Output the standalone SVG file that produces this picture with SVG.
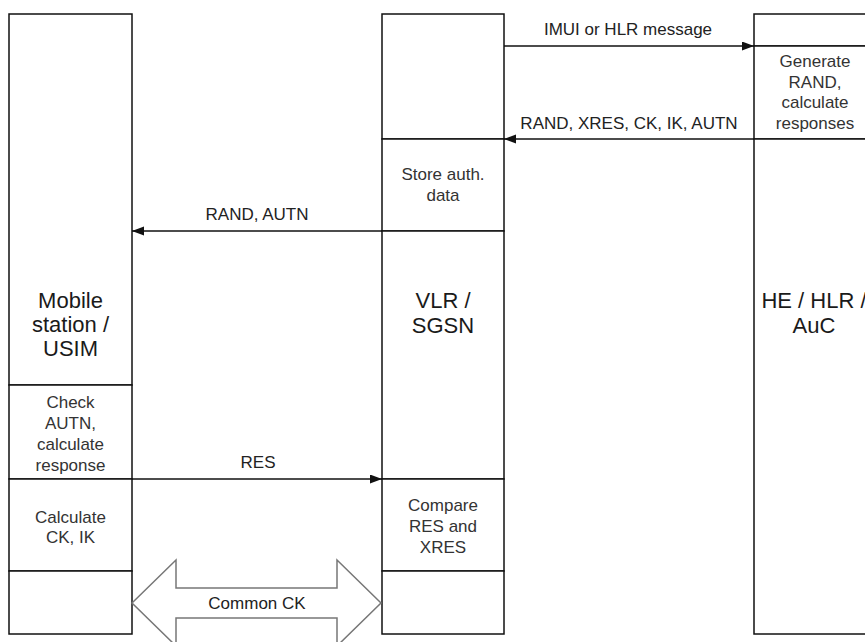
<svg xmlns="http://www.w3.org/2000/svg" width="865" height="642" viewBox="0 0 865 642">
<style>
.cell{fill:#fff;stroke:#111;stroke-width:1.5}
.big{font-family:"Liberation Sans",Arial,sans-serif;font-size:22px;fill:#1a1a1a;text-anchor:middle}
.sm{font-family:"Liberation Sans",Arial,sans-serif;font-size:17px;fill:#333;text-anchor:middle}
.lbl{font-family:"Liberation Sans",Arial,sans-serif;font-size:17px;fill:#222;text-anchor:middle}
.msg{stroke:#111;stroke-width:1.5;fill:none;marker-end:url(#ah)}
.blk{fill:#fff;stroke:#777;stroke-width:1.5}
</style>
<defs>
<marker id="ah" markerUnits="userSpaceOnUse" markerWidth="13" markerHeight="10" refX="12" refY="4.5" orient="auto">
<path d="M0,0 L12,4.5 L0,9 z" fill="#111"/>
</marker>
</defs>
<rect width="865" height="642" fill="#fff"/>
<g id="ms-main"><rect class="cell" x="9" y="14" width="123" height="371"/>
<text class="big" x="70.5" y="308">Mobile</text><text class="big" x="70.5" y="332">station /</text><text class="big" x="70.5" y="356">USIM</text></g>
<g id="ms-check"><rect class="cell" x="9" y="385" width="123" height="94"/>
<text class="sm" x="70.5" y="408">Check</text><text class="sm" x="70.5" y="429">AUTN,</text><text class="sm" x="70.5" y="450">calculate</text><text class="sm" x="70.5" y="471">response</text></g>
<g id="ms-calc"><rect class="cell" x="9" y="479" width="123" height="92"/>
<text class="sm" x="70.5" y="523">Calculate</text><text class="sm" x="70.5" y="543">CK, IK</text></g>
<g id="ms-bottom"><rect class="cell" x="9" y="571" width="123" height="63"/></g>
<g id="vlr-top"><rect class="cell" x="382" y="14" width="122" height="125"/></g>
<g id="vlr-store"><rect class="cell" x="382" y="139" width="122" height="92"/>
<text class="sm" x="443" y="180">Store auth.</text><text class="sm" x="443" y="201">data</text></g>
<g id="vlr-main"><rect class="cell" x="382" y="231" width="122" height="248"/>
<text class="big" x="443" y="308">VLR /</text><text class="big" x="443" y="333">SGSN</text></g>
<g id="vlr-compare"><rect class="cell" x="382" y="479" width="122" height="92"/>
<text class="sm" x="443" y="511">Compare</text><text class="sm" x="443" y="532">RES and</text><text class="sm" x="443" y="553">XRES</text></g>
<g id="vlr-bottom"><rect class="cell" x="382" y="571" width="122" height="63"/></g>
<g id="he-top"><rect class="cell" x="754" y="14" width="122" height="32"/></g>
<g id="he-gen"><rect class="cell" x="754" y="46" width="122" height="93"/>
<text class="sm" x="815" y="67">Generate</text><text class="sm" x="815" y="88">RAND,</text><text class="sm" x="815" y="108">calculate</text><text class="sm" x="815" y="129">responses</text></g>
<g id="he-main"><rect class="cell" x="754" y="139" width="122" height="495"/>
<text class="big" x="814" y="308">HE / HLR /</text><text class="big" x="814" y="333">AuC</text></g>
<g id="connectors">
<line class="msg" x1="504" y1="46" x2="754" y2="46"/>
<text class="lbl" x="628" y="35">IMUI or HLR message</text>
<line class="msg" x1="754" y1="139" x2="504" y2="139"/>
<text class="lbl" x="629" y="129">RAND, XRES, CK, IK, AUTN</text>
<line class="msg" x1="382" y1="231" x2="132" y2="231"/>
<text class="lbl" x="257" y="220">RAND, AUTN</text>
<line class="msg" x1="132" y1="479" x2="382" y2="479"/>
<text class="lbl" x="258" y="468">RES</text>
<polygon class="blk" points="132,603 176,560 176,588 337,588 337,560 381,603 337,646 337,618 176,618 176,646"/>
<text class="lbl" x="257" y="609" fill="#333">Common CK</text>
</g>
</svg>
